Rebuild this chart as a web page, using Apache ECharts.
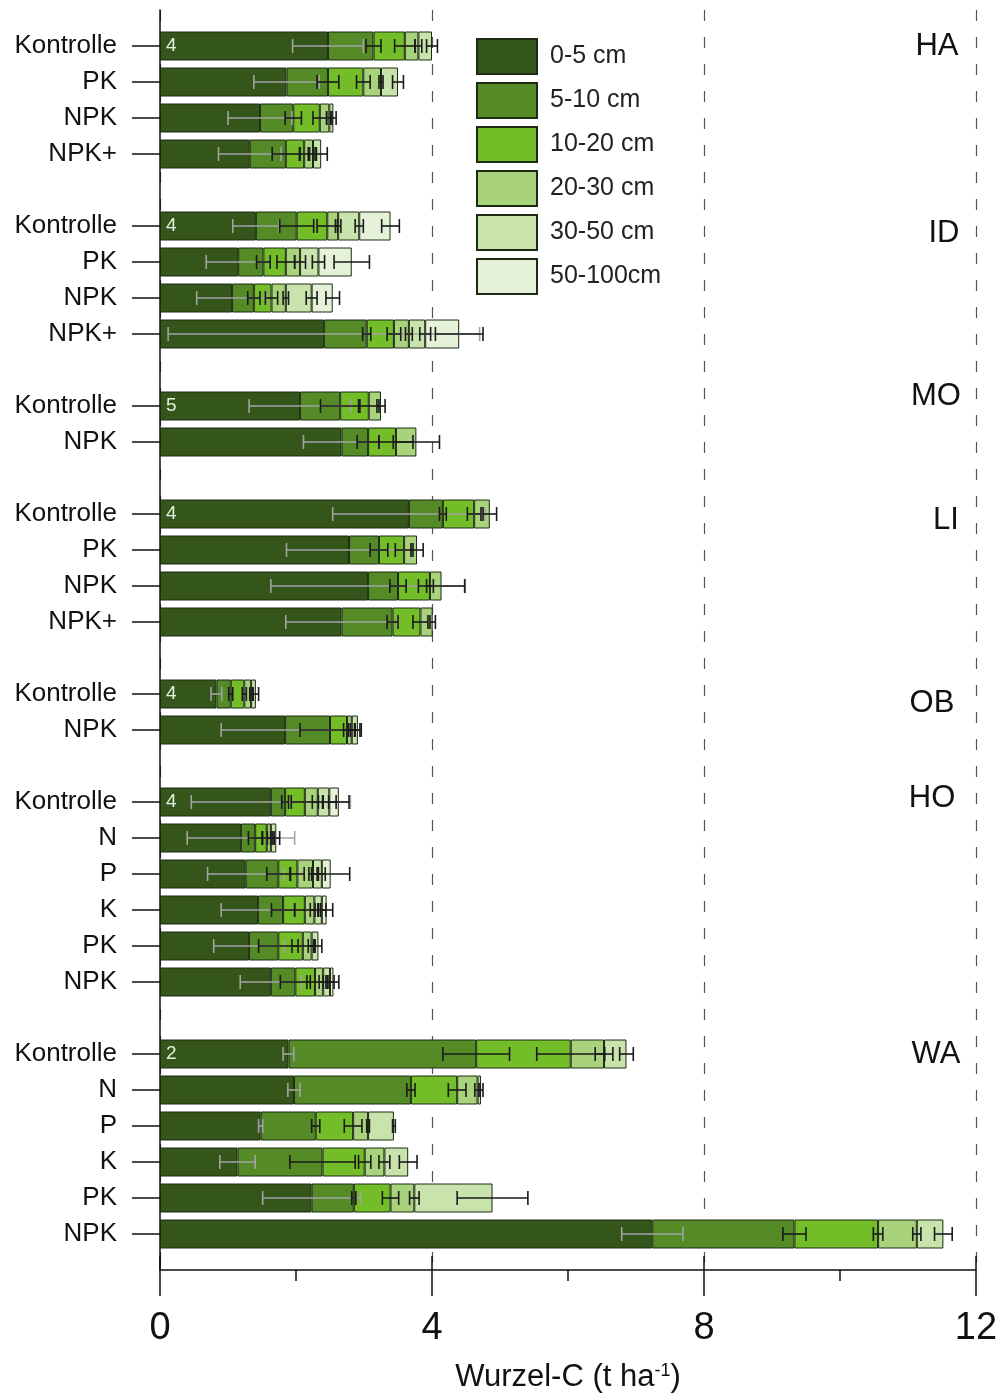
<!DOCTYPE html>
<html><head><meta charset="utf-8">
<script src="https://cdn.jsdelivr.net/npm/echarts@6/dist/echarts.min.js"></script>
<style>html,body{margin:0;padding:0;background:#fff;overflow:hidden}#c{width:1001px;height:1398px}</style>
</head><body><div id="c"></div>
<script>
// ---- data ----
const sites = ['HA','ID','MO','LI','OB','HO','WA'];
const treatments = [
  ['Kontrolle','PK','NPK','NPK+'],
  ['Kontrolle','PK','NPK','NPK+'],
  ['Kontrolle','NPK'],
  ['Kontrolle','PK','NPK','NPK+'],
  ['Kontrolle','NPK'],
  ['Kontrolle','N','P','K','PK','NPK'],
  ['Kontrolle','N','P','K','PK','NPK']
];
const depthNames = ['0-5 cm','5-10 cm','10-20 cm','20-30 cm','30-50 cm','50-100cm'];
// replicate counts shown at start of first bar of each site
const nLabels = ['4','','','', '4','','','', '5','', '4','','','', '4','', '4','','','','','', '2','','','','',''];
// layer values (t C/ha), rows in order of the treatments above
const d0 = [2.47,1.86,1.47,1.32, 1.41,1.15,1.06,2.41, 2.06,2.67, 3.66,2.78,3.06,2.67, 0.83,1.84, 1.63,1.19,1.26,1.44,1.31,1.63, 1.89,1.97,1.48,1.14,2.23,7.24];
const d1 = [0.67,0.61,0.49,0.53, 0.60,0.37,0.32,0.63, 0.59,0.39, 0.50,0.44,0.44,0.75, 0.21,0.66, 0.21,0.21,0.48,0.37,0.43,0.36, 2.76,1.72,0.81,1.25,0.62,2.09];
const d2 = [0.46,0.52,0.39,0.27, 0.45,0.33,0.26,0.40, 0.42,0.41, 0.46,0.37,0.47,0.41, 0.20,0.25, 0.29,0.17,0.28,0.32,0.36,0.29, 1.39,0.68,0.55,0.62,0.54,1.23];
const d3 = [0.20,0.26,0.14,0.13, 0.16,0.21,0.21,0.22, 0.18,0.30, 0.23,0.19,0.17,0.18, 0.10,0.07, 0.19,0.06,0.23,0.14,0.13,0.12, 0.49,0.30,0.22,0.29,0.35,0.57];
const d4 = [0.20,0.25,0.06,0.12, 0.31,0.27,0.38,0.24, null,null, null,null,null,null, 0.07,0.09, 0.17,0.08,0.13,0.11,0.10,0.10, 0.33,0.05,0.38,0.35,1.15,0.39];
const d5 = [null,null,null,null, 0.46,0.49,0.31,0.50, null,null, null,null,null,null, null,null, 0.14,null,0.13,0.07,null,0.05, null,null,null,null,null,null];
// error half-widths for each layer (drawn at the cumulative end of that layer)
const e0 = [0.52,0.48,0.47,0.46, 0.34,0.47,0.52,2.29, 0.75,0.56, 1.12,0.92,1.43,0.82, 0.08,0.94, 1.17,0.79,0.56,0.54,0.52,0.45, 0.08,0.09,0.03,0.26,0.72,0.45];
const e1 = [0.11,0.16,0.12,0.20, 0.25,0.10,0.09,0.06, 0.29,0.16, 0.05,0.13,0.12,0.08, 0.03,0.44, 0.05,0.10,0.17,0.17,0.29,0.22, 0.49,0.06,0.06,0.48,0.03,0.17];
const e2 = [0.15,0.10,0.10,0.06, 0.15,0.13,0.09,0.10, 0.15,0.25, 0.10,0.13,0.05,0.11, 0.03,0.05, 0.20,0.06,0.10,0.15,0.16,0.12, 0.50,0.13,0.13,0.09,0.12,0.07];
const e3 = [0.05,0.03,0.04,0.05, 0.04,0.08,0.04,0.05, 0.06,0.34, 0.10,0.09,0.34,0.04, 0.02,0.05, 0.08,0.05,0.06,0.06,0.05,0.06, 0.13,0.04,0.02,0.08,0.07,0.06];
const e4 = [0.08,0.08,0.04,0.09, 0.06,0.09,0.08,0.08, null,null, null,null,null,null, 0.04,0.05, 0.10,0.05,0.05,0.06,0.05,0.06, 0.10,0.03,0.02,0.13,0.52,0.13];
const e5 = [null,null,null,null, 0.13,0.26,0.10,0.35, null,null, null,null,null,null, null,null, 0.15,null,0.28,0.09,null,0.08, null,null,null,null,null,null];
const xTicks = [0,4,8,12];

// ---- build ----
const layers = [d0,d1,d2,d3,d4,d5];
const errs = [e0,e1,e2,e3,e4,e5];
const colors = ['#35561b','#558b26','#72bd28','#a8d27c','#c9e3ad','#e6f1da'];
const cats = [];        // axis categories incl. gap slots
const rowIdx = [];      // category index for each real row
let g = 0;
cats.push('gap|' + (g++));
sites.forEach((s, si) => {
  treatments[si].forEach(t => { rowIdx.push(cats.length); cats.push(s + '|' + t); });
  cats.push('gap|' + (g++));
});
function expand(arr) {
  const out = cats.map(() => null);
  arr.forEach((v, i) => { out[rowIdx[i]] = v; });
  return out;
}
const labelsExp = expand(nLabels);
const barSeries = layers.map((arr, k) => ({
  name: depthNames[k], type: 'bar', stack: 'tot', barWidth: 29,
  data: expand(arr),
  itemStyle: { color: colors[k], borderColor: '#1d2b12', borderWidth: 1 },
  label: k === 0 ? {
    show: true, position: 'insideLeft', distance: 6, fontSize: 19, color: '#e6efe0',
    fontFamily: 'Liberation Sans',
    formatter: p => labelsExp[p.dataIndex] || ''
  } : { show: false },
  emphasis: { disabled: true }
}));
const errData = [];
rowIdx.forEach((ci, r) => {
  let cum = 0;
  for (let k = 0; k < 6; k++) {
    const v = layers[k][r];
    if (v == null) continue;
    cum += v;
    const e = errs[k][r];
    if (e != null) errData.push([cum, ci, e, k]);
  }
});
const errSeries = {
  type: 'custom', z: 10, silent: true,
  data: errData, encode: { x: 0, y: 1 },
  renderItem: (params, api) => {
    const c = api.value(0), ci = api.value(1), e = api.value(2), k = api.value(3);
    const p1 = api.coord([c - e, ci]), p2 = api.coord([c + e, ci]);
    const col = k === 0 ? '#a3a3a3' : '#1a1a1a';
    const h = 7;
    const st = { stroke: col, lineWidth: 1.6 };
    return { type: 'group', children: [
      { type: 'line', shape: { x1: p1[0], y1: p1[1], x2: p2[0], y2: p2[1] }, style: st },
      { type: 'line', shape: { x1: p1[0], y1: p1[1] - h, x2: p1[0], y2: p1[1] + h }, style: st },
      { type: 'line', shape: { x1: p2[0], y1: p2[1] - h, x2: p2[0], y2: p2[1] + h }, style: st }
    ]};
  }
};

const FF = 'Liberation Sans';
const siteLabelPos = [[937,46],[944,233],[936,396],[946,520],[932,703],[932,798],[936,1054]];
const chart = echarts.init(document.getElementById('c'), null, { renderer: 'canvas', width: 1001, height: 1398 });
chart.setOption({
  animation: false,
  textStyle: { fontFamily: FF },
  grid: [
    { left: 160, top: 10, width: 816, height: 1260 },
    { left: 160, top: 10, width: 816, height: 1260 }
  ],
  legend: {
    orient: 'vertical', left: 476, top: 38, padding: 0, itemWidth: 60, itemHeight: 35, itemGap: 7,
    icon: 'rect', selectedMode: false,
    textStyle: { fontSize: 25, color: '#222', fontFamily: FF, padding: [0, 0, 0, 8] },
    data: depthNames
  },
  xAxis: [{
    gridIndex: 0, type: 'value', min: 0, max: 12, interval: 4,
    axisLine: { show: true, lineStyle: { color: '#111', width: 1.5 } },
    axisTick: { show: true, length: 26, lineStyle: { color: '#111', width: 1.5 } },
    minorTick: { show: true, splitNumber: 2, length: 11, lineStyle: { color: '#111', width: 1.5 } },
    splitLine: { show: true, lineStyle: { color: '#555', width: 1.2, type: [11, 16] } },
    axisLabel: { fontSize: 38, color: '#111', margin: 40, fontFamily: FF,
      formatter: v => xTicks.indexOf(v) >= 0 ? String(v) : '' },
    name: 'Wurzel-C (t ha{sup|-1})', nameLocation: 'middle', nameGap: 92,
    nameTextStyle: { fontSize: 31, color: '#111', fontFamily: FF,
      rich: { sup: { fontSize: 18, verticalAlign: 'top', padding: [0, 0, 12, 0], color: '#111', fontFamily: FF } } }
  }, {
    gridIndex: 1, type: 'value', min: 0, max: 12, interval: 4,
    axisLine: { show: false },
    axisTick: { show: true, inside: true, length: 14, lineStyle: { color: '#111', width: 1.5 } },
    axisLabel: { show: false }, splitLine: { show: false }
  }],
  yAxis: [{
    gridIndex: 0, type: 'category', inverse: true, boundaryGap: false, data: cats,
    axisLine: { show: true, lineStyle: { color: '#111', width: 1.5 } },
    axisTick: { show: true, length: 28, lineStyle: { color: '#111', width: 1.5 },
      interval: (i, v) => v.indexOf('gap|') !== 0 },
    axisLabel: { interval: 0, margin: 43, fontSize: 26, color: '#111', fontFamily: FF,
      formatter: v => v.indexOf('gap|') === 0 ? '' : v.split('|')[1] },
    splitLine: { show: false }
  }, {
    gridIndex: 1, type: 'value', show: false
  }],
  series: [...barSeries, errSeries],
  graphic: sites.map((s, i) => ({
    type: 'text', x: siteLabelPos[i][0], y: siteLabelPos[i][1], silent: true,
    style: { text: s, fontSize: 31, fill: '#111', fontFamily: FF, align: 'center', verticalAlign: 'middle' }
  }))
});
</script></body></html>
